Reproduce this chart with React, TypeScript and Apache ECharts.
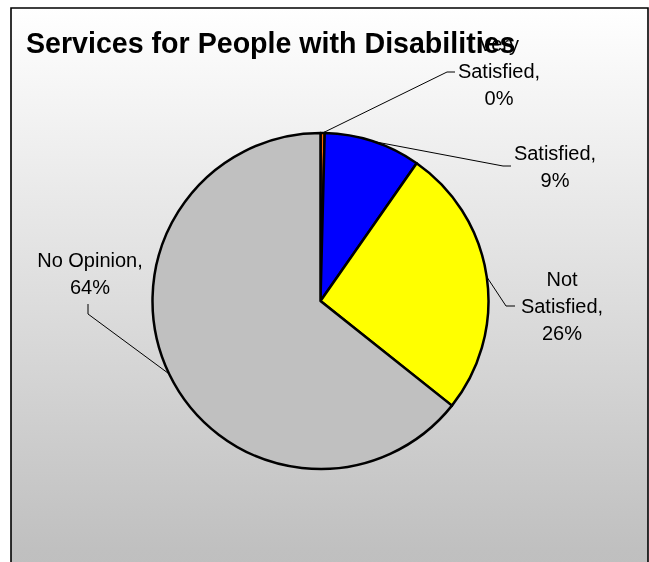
import React, { useEffect, useRef } from "react";
import * as echarts from "echarts";

const categories = ["Very Satisfied", "Satisfied", "Not Satisfied", "No Opinion"];
const labelNames = ["Very\nSatisfied", "Satisfied", "Not\nSatisfied", "No Opinion"];
const values = [0.4, 9.3, 26.0, 64.3];
const colors = ["#ff6600", "#0000ff", "#ffff00", "#c0c0c0"];
const titleText = "Services for People with Disabilities";

// label placement (Excel-like), positions in px
const labelPos: number[][] = [
  [499, 71],
  [555, 166],
  [562, 306],
  [90, 273],
];
const labelBends: number[][][] = [
  [[447, 72], [455, 72]],
  [[503, 166], [511, 166]],
  [[506, 306], [515, 306]],
  [[88, 314], [88, 304]],
];

const FONT = "'Liberation Sans', Arial, sans-serif";

export default function App() {
  const ref = useRef<HTMLDivElement>(null);
  useEffect(() => {
    if (!ref.current) return;
    const chart = echarts.init(ref.current, null, { renderer: "svg" });
    chart.setOption({
      animation: false,
      graphic: [
        {
          type: "rect",
          z: -10,
          shape: { x: 11, y: 8, width: 637, height: 600 },
          style: {
            fill: new echarts.graphic.LinearGradient(0, 0, 0, 1, [
              { offset: 0, color: "#ffffff" },
              { offset: 0.9, color: "#c0c0c0" },
              { offset: 1, color: "#bdbdbd" },
            ]),
            stroke: "#000",
            lineWidth: 1.6,
          },
        },
      ],
      title: {
        text: titleText,
        left: 26,
        top: 28,
        padding: 0,
        textStyle: {
          fontFamily: FONT,
          fontSize: 28.6,
          fontWeight: "bold",
          color: "#000",
        },
      },
      series: [
        {
          type: "pie",
          center: [320.5, 301],
          radius: 168,
          startAngle: 90,
          clockwise: true,
          avoidLabelOverlap: false,
          data: categories.map((c, i) => ({
            name: c,
            value: values[i],
            itemStyle: { color: colors[i] },
          })),
          itemStyle: { borderColor: "#000", borderWidth: 2.5 },
          label: {
            show: true,
            position: "outside",
            formatter: (p: any) =>
              `${labelNames[p.dataIndex]},\n${Math.round(p.value)}%`,
            fontFamily: FONT,
            fontSize: 20,
            lineHeight: 27,
            color: "#000",
            align: "center",
          },
          labelLine: {
            show: true,
            lineStyle: { color: "#000", width: 1 },
          },
          labelLayout: (params: any) => {
            const i = params.dataIndex;
            const pts = params.labelLinePoints;
            const start = pts && pts[0] ? pts[0] : labelBends[i][0];
            return {
              x: labelPos[i][0],
              y: labelPos[i][1],
              align: "center",
              verticalAlign: "middle",
              labelLinePoints: [start, labelBends[i][0], labelBends[i][1]],
            };
          },
          emphasis: { disabled: true },
        },
      ],
    });
    return () => chart.dispose();
  }, []);
  return (
    <div
      ref={ref}
      style={{ position: "fixed", left: 0, top: 0, width: 649, height: 562 }}
    />
  );
}
